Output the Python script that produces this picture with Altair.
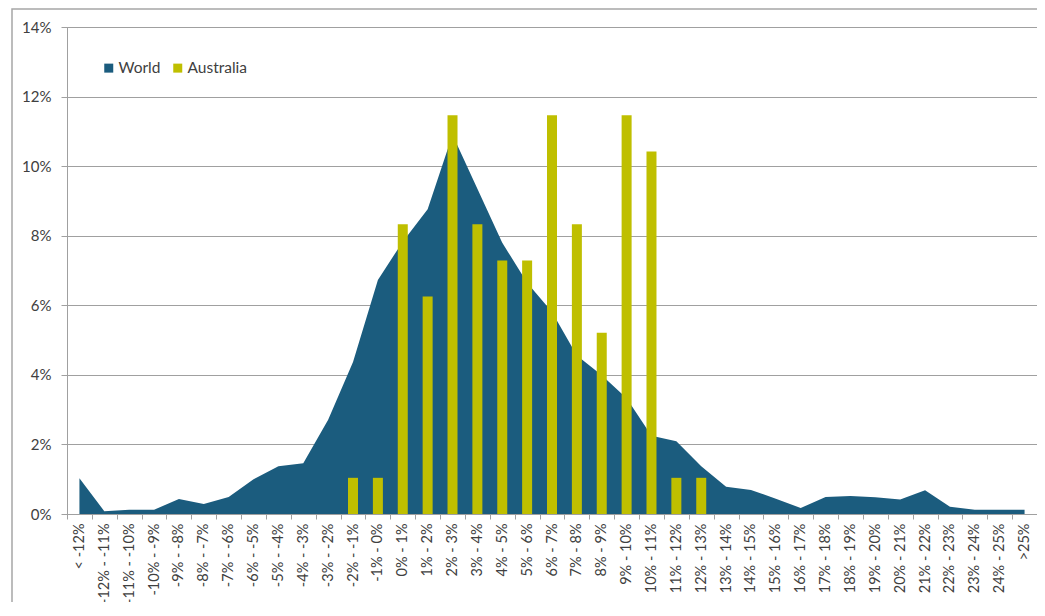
import altair as alt
import pandas as pd

categories = [
    "< -12%", "-12% - -11%", "-11% - -10%", "-10% - -9%", "-9% - -8%",
    "-8% - -7%", "-7% - -6%", "-6% - -5%", "-5% - -4%", "-4% - -3%",
    "-3% - -2%", "-2% - -1%", "-1% - 0%", "0% - 1%", "1% - 2%",
    "2% - 3%", "3% - 4%", "4% - 5%", "5% - 6%", "6% - 7%",
    "7% - 8%", "8% - 9%", "9% - 10%", "10% - 11%", "11% - 12%",
    "12% - 13%", "13% - 14%", "14% - 15%", "15% - 16%", "16% - 17%",
    "17% - 18%", "18% - 19%", "19% - 20%", "20% - 21%", "21% - 22%",
    "22% - 23%", "23% - 24%", "24% - 25%", ">25%",
]

world_pct = [
    1.03, 0.08, 0.12, 0.12, 0.43, 0.29, 0.49, 1.00, 1.37, 1.46,
    2.71, 4.37, 6.73, 7.83, 8.76, 10.90, 9.35, 7.80, 6.65, 5.81,
    4.56, 3.99, 3.33, 2.25, 2.09, 1.37, 0.78, 0.69, 0.44, 0.17,
    0.49, 0.52, 0.48, 0.42, 0.68, 0.21, 0.12, 0.12, 0.12,
]

aus_categories = [
    "-2% - -1%", "-1% - 0%", "0% - 1%", "1% - 2%", "2% - 3%",
    "3% - 4%", "4% - 5%", "5% - 6%", "6% - 7%", "7% - 8%",
    "8% - 9%", "9% - 10%", "10% - 11%", "11% - 12%", "12% - 13%",
]
aus_pct = [1.04, 1.04, 8.33, 6.25, 11.46, 8.33, 7.29, 7.29, 11.46, 8.33,
           5.21, 11.46, 10.42, 1.04, 1.04]

series_names = ["World", "Australia"]
series_colors = ["#1B5C7E", "#BFBF00"]
y_ticks = [0, 0.02, 0.04, 0.06, 0.08, 0.10, 0.12, 0.14]

world_df = pd.DataFrame({"cat": categories, "value": [v / 100 for v in world_pct], "series": "World"})
aus_df = pd.DataFrame({"cat": aus_categories, "value": [v / 100 for v in aus_pct], "series": "Australia"})

FONT = "Lato"
TEXT = "#404040"
GRID = "#A0A0A0"

x_scale = alt.Scale(domain=categories, paddingInner=0, paddingOuter=0)
x_axis = alt.Axis(
    title=None, labelAngle=-90, labelFont=FONT, labelFontSize=14.5,
    labelColor=TEXT, tickBand="extent", tickColor=GRID, tickSize=5,
    domainColor=GRID, labelPadding=4, grid=False,
)
y_axis = alt.Axis(
    title=None, format=".0%", values=y_ticks, labelFont=FONT,
    labelFontSize=15, labelColor=TEXT, tickColor=GRID, tickSize=6,
    domainColor=GRID, gridColor=GRID, gridWidth=1, labelPadding=10,
)
legend = alt.Legend(
    title=None, orient="none", legendX=34, legendY=33, direction="horizontal",
    symbolType="square", symbolSize=81, symbolStrokeWidth=0, labelFont=FONT,
    labelFontSize=15.5, labelColor=TEXT, columnPadding=9, padding=0,
    labelOffset=2,
)

area = alt.Chart(world_df).mark_area(opacity=1).encode(
    x=alt.X("cat:N", sort=categories, bandPosition=0.5, scale=x_scale, axis=x_axis),
    y=alt.Y("value:Q", scale=alt.Scale(domain=[0, 0.14], nice=False), axis=y_axis),
    color=alt.Color("series:N", scale=alt.Scale(domain=series_names, range=series_colors),
                    legend=legend),
)

bars = alt.Chart(aus_df).mark_bar(size=10).encode(
    x=alt.X("cat:N", sort=categories, scale=x_scale, axis=x_axis),
    y=alt.Y("value:Q"),
    color=alt.Color("series:N"),
)

frame = alt.Chart(pd.DataFrame({"a": [0]})).mark_rect(
    fill="transparent", stroke="#A6A6A6", strokeWidth=1.5
).encode(
    x=alt.value(-55), x2=alt.value(1200), y=alt.value(-18), y2=alt.value(800)
)

chart = alt.layer(area, bars, frame).properties(
    width=970, height=487,
    autosize=alt.AutoSizeParams(type="none"),
    padding={"left": 59, "top": 19, "right": 0, "bottom": 88},
).configure_view(stroke=GRID, strokeWidth=1).configure_axis(
    domainWidth=1, tickWidth=1
)

chart.save("out.html", embed_options={"renderer": "svg", "actions": False})
